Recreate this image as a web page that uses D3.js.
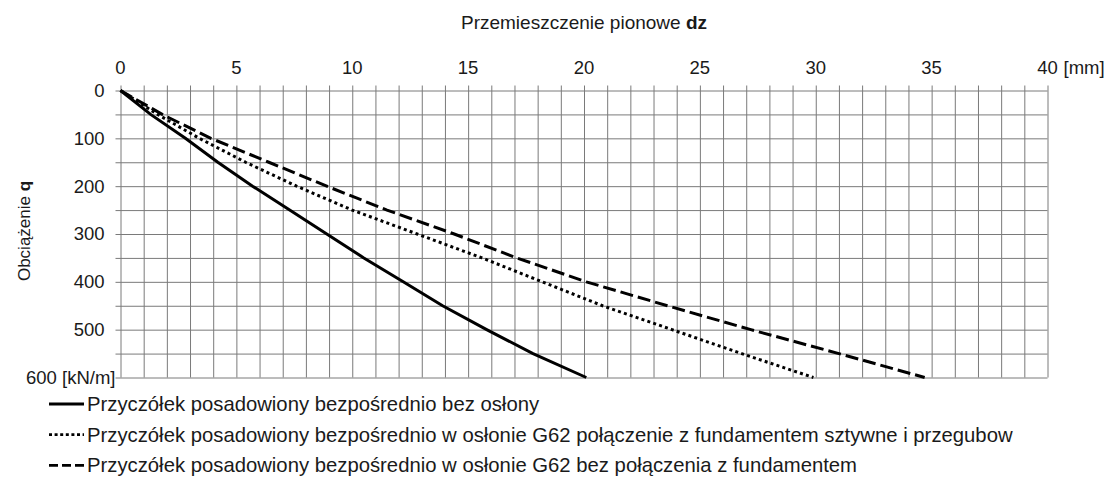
<!DOCTYPE html>
<html>
<head>
<meta charset="utf-8">
<script src="https://cdn.jsdelivr.net/npm/d3@7"></script>
<style>
  body { margin: 0; background: #fff; }
  text { font-family: "Liberation Sans", Arial, sans-serif; fill: #1a1a1a; }
</style>
</head>
<body>
<div id="chart"></div>
<script>
// DATA
const loads = [0, 50, 100, 150, 200, 250, 300, 350, 400, 450, 500, 550, 600];
const solidDz = [0, 1.3, 2.8, 4.2, 5.7, 7.3, 8.9, 10.5, 12.2, 13.9, 15.8, 17.8, 20.1];
const dottedDz = [0, 1.6, 3.4, 5.4, 7.6, 10.0, 12.8, 15.6, 18.2, 20.8, 23.8, 26.8, 29.9];
const dashedDz = [0, 1.8, 3.9, 6.4, 8.9, 11.5, 14.4, 17.1, 20.1, 23.6, 27.2, 31.0, 34.7];
const seriesNames = [
  "Przyczółek posadowiony bezpośrednio bez osłony",
  "Przyczółek posadowiony bezpośrednio w osłonie G62 połączenie z fundamentem sztywne i przegubow",
  "Przyczółek posadowiony bezpośrednio w osłonie G62 bez połączenia z fundamentem"
];
const xTicks = [0, 5, 10, 15, 20, 25, 30, 35, 40];
const yTicks = [0, 100, 200, 300, 400, 500, 600];

const W = 1110, H = 489;
const MARGIN = { LEFT: 120.5, TOP: 90.5 };
const WIDTH = 927, HEIGHT = 287;
const GRID = "#7a7a7a";

const svg = d3.select("#chart").append("svg")
  .attr("width", W).attr("height", H);

const g = svg.append("g")
  .attr("transform", `translate(${MARGIN.LEFT}, ${MARGIN.TOP})`);

const x = d3.scaleLinear().domain([0, 40]).range([0, WIDTH]);
const y = d3.scaleLinear().domain([0, 600]).range([0, HEIGHT]);

// GRID + TICKS (every 1 mm and every 50 kN/m)
g.append("g")
  .call(d3.axisTop(x).ticks(40).tickSize(-HEIGHT).tickFormat(""))
  .call((a) => a.select(".domain").remove())
  .selectAll("line").attr("stroke", GRID).attr("y1", -5);

g.append("g")
  .call(d3.axisLeft(y).ticks(12).tickSize(-WIDTH).tickFormat(""))
  .call((a) => a.select(".domain").remove())
  .selectAll("line").attr("stroke", GRID).attr("x1", -5);

// TICK LABELS
g.selectAll(".xlab").data(xTicks).enter().append("text")
  .attr("class", "xlab")
  .attr("x", (d) => x(d)).attr("y", -17)
  .attr("text-anchor", "middle")
  .style("font-size", "18.5px")
  .text((d) => d);

g.append("text")
  .attr("x", x(40) + 16).attr("y", -17)
  .style("font-size", "18.5px")
  .text("[mm]");

g.selectAll(".ylab").data(yTicks).enter().append("text")
  .attr("class", "ylab")
  .attr("x", (d) => (d === 600 ? -5 : -16)).attr("y", (d) => y(d))
  .attr("dy", "0.35em")
  .attr("text-anchor", "end")
  .style("font-size", "18.5px")
  .text((d) => (d === 600 ? "600 [kN/m]" : d));

// AXIS TITLES
const title = svg.append("text")
  .attr("x", 584).attr("y", 29)
  .attr("text-anchor", "middle")
  .style("font-size", "19px");
title.append("tspan").text("Przemieszczenie pionowe ");
title.append("tspan").style("font-weight", "bold").text("dz");

const ytitle = svg.append("text")
  .attr("transform", "translate(30, 231) rotate(-90)")
  .attr("text-anchor", "middle")
  .style("font-size", "17px");
ytitle.append("tspan").text("Obciążenie ");
ytitle.append("tspan").style("font-weight", "bold").text("q");

// LINES
const styles = [
  { dz: solidDz, dash: null, legendDash: null },
  { dz: dottedDz, dash: "3,3.2", legendDash: "3,2.6" },
  { dz: dashedDz, dash: "13,5", legendDash: "9,4" }
];

const line = d3.line().x((d) => x(d[0])).y((d) => y(d[1]));

styles.forEach((s) => {
  g.append("path")
    .datum(s.dz.map((v, i) => [v, loads[i]]))
    .attr("fill", "none")
    .attr("stroke", "#000")
    .attr("stroke-width", 3)
    .attr("stroke-dasharray", s.dash)
    .attr("d", line);
});

// LEGEND
const legend = svg.append("g").attr("transform", "translate(49, 404)");
styles.forEach((s, i) => {
  const row = legend.append("g").attr("transform", `translate(0, ${i * 30.7})`);
  row.append("line")
    .attr("x1", 0).attr("x2", 35)
    .attr("stroke", "#000").attr("stroke-width", 2.8)
    .attr("stroke-dasharray", s.legendDash);
  row.append("text")
    .attr("x", 38).attr("y", 6.8)
    .style("font-size", "20.3px")
    .text(seriesNames[i]);
});
</script>
</body>
</html>
